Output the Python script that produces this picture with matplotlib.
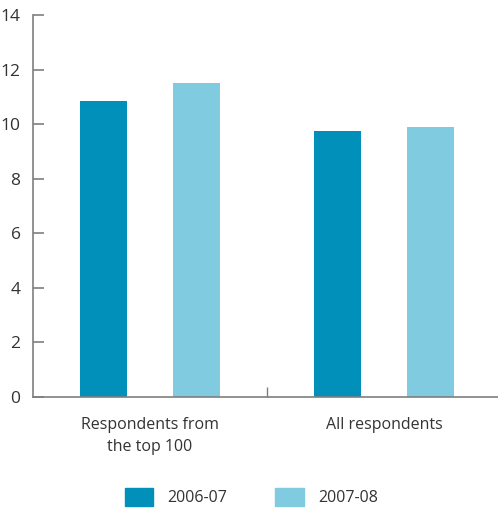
import matplotlib
matplotlib.use("Agg")
import matplotlib.pyplot as plt
import numpy as np
from matplotlib.patches import Patch

categories = ["Respondents from\nthe top 100", "All respondents"]
series_names = ["2006-07", "2007-08"]
values_2006_07 = [10.85, 9.75]
values_2007_08 = [11.5, 9.9]
y_ticks = [0, 2, 4, 6, 8, 10, 12, 14]

dark = "#0090BA"
light = "#80CBDF"
axis_grey = "#7f7f7f"
text_col = "#333333"

plt.rcParams['font.family'] = ['Open Sans', 'DejaVu Sans']

fig = plt.figure(figsize=(4.98, 5.09), dpi=100)
W, H = 498, 509
ax = fig.add_axes([33 / W, 1 - 397 / H, (501 - 33) / W, (397 - 15) / H])

x = np.arange(len(categories))
bw = 0.2
ax.bar(x - 0.2, values_2006_07, width=bw, color=dark)
ax.bar(x + 0.2, values_2007_08, width=bw, color=light)

ax.set_xlim(-0.5, 1.5)
ax.set_ylim(0, 14)
ax.set_yticks(y_ticks)
ax.set_yticklabels([str(t) for t in y_ticks])

for s in ["top", "right"]:
    ax.spines[s].set_visible(False)
for s in ["left", "bottom"]:
    ax.spines[s].set_color(axis_grey)
    ax.spines[s].set_linewidth(1.2)

ax.tick_params(axis="y", direction="in", length=8, width=1.2, color=axis_grey,
               labelsize=12.5, labelcolor=text_col, pad=9)
ax.set_xticks([0.5])
ax.set_xticklabels([""])
ax.tick_params(axis="x", direction="in", length=7, width=1, color=axis_grey)

for xi, lab in zip(x, categories):
    ax.text(xi, -0.72, lab, ha="center", va="top", fontsize=11.5, color=text_col,
            linespacing=1.55)

handles = [Patch(color=dark), Patch(color=light)]
fig.legend(handles, series_names, loc="center", bbox_to_anchor=(0.505, 1 - 497 / H),
           ncol=2, frameon=False, fontsize=11.5, labelcolor=text_col,
           handlelength=1.8, handleheight=1.35, handletextpad=0.9, columnspacing=3.0)

fig.savefig("out.png", dpi=100)
